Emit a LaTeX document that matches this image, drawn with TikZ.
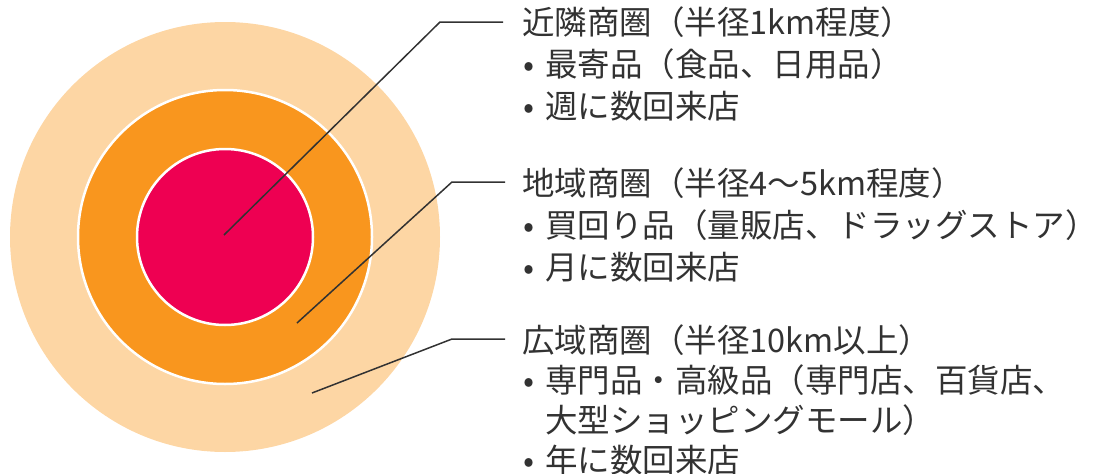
\documentclass[tikz,border=0pt]{standalone}
\usepackage{fontspec}
\setmainfont{Noto Sans CJK JP}
\definecolor{wideband}{RGB}{253,214,164}
\definecolor{areaband}{RGB}{249,150,30}
\definecolor{nearband}{RGB}{238,0,82}
\definecolor{inkgray}{RGB}{50,50,50}
\newcommand{\bul}{\makebox[23pt][l]{\hspace{1pt}•}}

\begin{document}
\begin{tikzpicture}[x=1pt, y=-1pt,
    zone/.style={circle, inner sep=0pt, outer sep=0pt},
    leader/.style={draw=inkgray, line width=1.5pt},
    blurb/.style={anchor=north west, align=left, inner sep=0pt, text=inkgray,
      font=\fontsize{32.5}{42}\selectfont}]
  \useasboundingbox (0,0) rectangle (1109,474);

  % Trade areas, from the outside in
  \node[zone, fill=wideband, minimum size=430pt] (wide) at (225,237) {};
  \node[zone, fill=areaband, draw=white, line width=2.5pt, minimum size=294pt] (area) at (225,237) {};
  \node[zone, fill=nearband, draw=white, line width=2.5pt, minimum size=176pt] (near) at (225,237) {};

  % Descriptions
  \node[blurb] (nearinfo) at (522,6)
    {近隣商圏（半径1km程度）\\ \bul 最寄品（食品、日用品）\\ \bul 週に数回来店};
  \node[blurb] (areainfo) at (522,167)
    {地域商圏（半径4～5km程度）\\ \bul 買回り品（量販店、ドラッグストア）\\ \bul 月に数回来店};
  \node[blurb, font=\fontsize{32.5}{40.3}\selectfont] (wideinfo) at (522,324)
    {広域商圏（半径10km以上）\\ \bul 専門品・高級品（専門店、百貨店、\\ \hspace*{23pt}大型ショッピングモール）\\ \bul 年に数回来店};

  % Leader lines
  \coordinate (neartip) at (224,235);
  \coordinate (nearbend) at (440,22);
  \coordinate (nearend) at (503,22);
  \coordinate (areatip) at (297,323);
  \coordinate (areabend) at (452,182);
  \coordinate (areaend) at (505,182);
  \coordinate (widetip) at (312,393);
  \coordinate (widebend) at (452,339);
  \coordinate (wideend) at (505,339);

  \draw[leader] (neartip) -- (nearbend) -- (nearend);
  \draw[leader] (areatip) -- (areabend) -- (areaend);
  \draw[leader] (widetip) -- (widebend) -- (wideend);
\end{tikzpicture}
\end{document}
